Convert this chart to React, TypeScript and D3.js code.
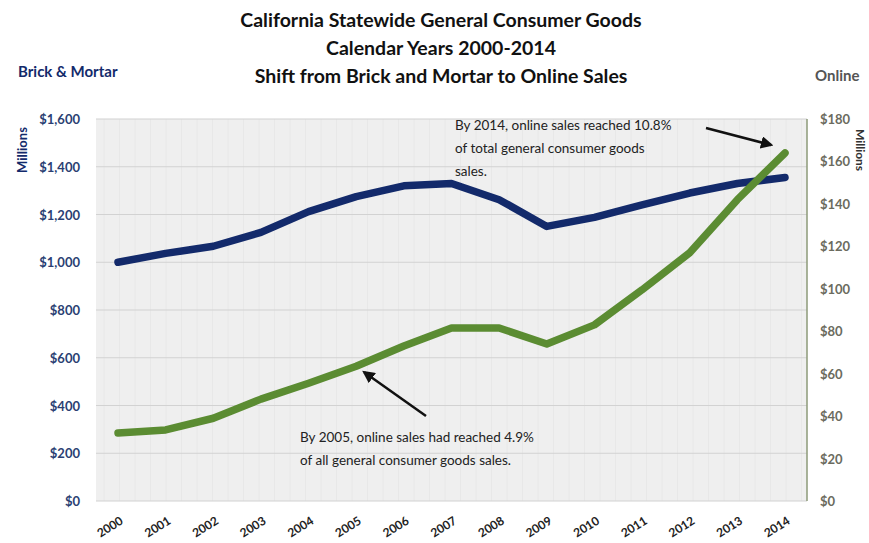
// California general consumer goods: brick & mortar vs online, 2000-2014.
// Two y scales (left $M for brick & mortar, right $M for online) over one year axis.

import * as d3 from "d3";

const years = [2000, 2001, 2002, 2003, 2004, 2005, 2006, 2007, 2008, 2009, 2010, 2011, 2012, 2013, 2014];
const brickMortar = [1000, 1037, 1067, 1125, 1212, 1275, 1320, 1330, 1262, 1150, 1188, 1240, 1290, 1330, 1355];
const online = [32, 33.5, 39, 48, 55.5, 63.5, 73, 81.5, 81.5, 74, 83, 99.5, 117, 142, 164];
const leftTicks = [0, 200, 400, 600, 800, 1000, 1200, 1400, 1600];
const rightTicks = [0, 20, 40, 60, 80, 100, 120, 140, 160, 180];
const titleLines = [
  "California Statewide General Consumer Goods",
  "Calendar Years 2000-2014",
  "Shift from Brick and Mortar to Online Sales",
];
const note2005 = ["By 2005, online sales had reached 4.9%", "of all general consumer goods sales."];
const note2014 = ["By 2014, online sales reached 10.8%", "of total general consumer goods", "sales."];

const W = 869, H = 543;
const PL = 96, PR = 807, PT = 119, PB = 501;
const FONT = "Lato, 'Open Sans', sans-serif";
const NAVY = "#132a6b";
const GREEN = "#5b8c32";

export default function App() {
  const x = d3.scaleLinear().domain([2000, 2014]).range([118, 785]);
  const yL = d3.scaleLinear().domain([0, 1600]).range([PB, PT]);
  const yR = d3.scaleLinear().domain([0, 180]).range([PB, PT]);
  const fmtL = (v: number) => "$" + d3.format(",")(v);

  const lineL = d3.line<number>().x((_, i) => x(years[i])).y((v) => yL(v));
  const lineR = d3.line<number>().x((_, i) => x(years[i])).y((v) => yR(v));

  const vgrid = d3.range(PL + 8, PR, 15.5);

  return (
    <svg width={W} height={H} style={{ position: "absolute", left: 0, top: 0, background: "#fff" }}
         fontFamily={FONT}>
      <defs>
        <marker id="ah" viewBox="0 0 10 10" refX="8" refY="5" markerWidth="5" markerHeight="5"
                orient="auto-start-reverse">
          <path d="M0,0 L10,5 L0,10 z" fill="#111" />
        </marker>
      </defs>

      {/* titles */}
      {titleLines.map((t, i) => (
        <text key={t} x={441} y={27 + i * 28} textAnchor="middle" fontSize={19.5} fontWeight={700}
              fill="#111">{t}</text>
      ))}
      <text x={18} y={77} fontSize={15} fontWeight={700} fill={NAVY}>Brick &amp; Mortar</text>
      <text x={815} y={81} fontSize={15} fontWeight={700} fill="#555">Online</text>
      <text transform="translate(27,150) rotate(-90)" textAnchor="middle" fontSize={13} fontWeight={700}
            fill={NAVY}>Millions</text>
      <text transform="translate(856,150) rotate(90)" textAnchor="middle" fontSize={12} fontWeight={700}
            fill="#333">Millions</text>

      {/* plot area */}
      <rect x={PL} y={PT} width={PR - PL} height={PB - PT} fill="#efefef" />
      {vgrid.map((v) => (
        <line key={v} x1={v} x2={v} y1={PT} y2={PB} stroke="#e8e8e8" strokeWidth={1} />
      ))}
      {leftTicks.map((t) => (
        <line key={t} x1={PL} x2={PR} y1={yL(t)} y2={yL(t)} stroke="#d2d2d2" strokeWidth={1.2} />
      ))}
      <line x1={PR} x2={PR} y1={PT} y2={PB} stroke="#8c9a78" strokeWidth={1.5} />

      {/* axis labels */}
      {leftTicks.map((t) => (
        <text key={t} x={80} y={yL(t) + 5} textAnchor="end" fontSize={13} fontWeight={700}
              fill="#2b3f73">{fmtL(t)}</text>
      ))}
      {rightTicks.map((t) => (
        <text key={t} x={820} y={yR(t) + 5} fontSize={13} fontWeight={700} fill="#6b6b5e">{"$" + t}</text>
      ))}
      {years.map((yr) => (
        <text key={yr} transform={`translate(${x(yr) + 6},${PB + 22}) rotate(-32)`} textAnchor="end"
              fontSize={12} fontWeight={700} fill="#222">{yr}</text>
      ))}

      {/* series */}
      <path d={lineL(brickMortar) ?? ""} fill="none" stroke={NAVY} strokeWidth={7.5}
            strokeLinejoin="round" strokeLinecap="round" />
      <path d={lineR(online) ?? ""} fill="none" stroke={GREEN} strokeWidth={7.5}
            strokeLinejoin="round" strokeLinecap="round" />

      {/* annotations */}
      <line x1={426} y1={416} x2={x(2005) + 8} y2={yR(online[5]) + 6} stroke="#111" strokeWidth={2.5}
            markerEnd="url(#ah)" />
      {note2005.map((t, i) => (
        <text key={t} x={300} y={442 + i * 23} fontSize={13.5} fill="#222">{t}</text>
      ))}
      <line x1={706} y1={128} x2={x(2014) - 14} y2={yR(online[14]) - 8} stroke="#111" strokeWidth={2.5}
            markerEnd="url(#ah)" />
      {note2014.map((t, i) => (
        <text key={t} x={455} y={130 + i * 23} fontSize={13.5} fill="#222">{t}</text>
      ))}
    </svg>
  );
}
